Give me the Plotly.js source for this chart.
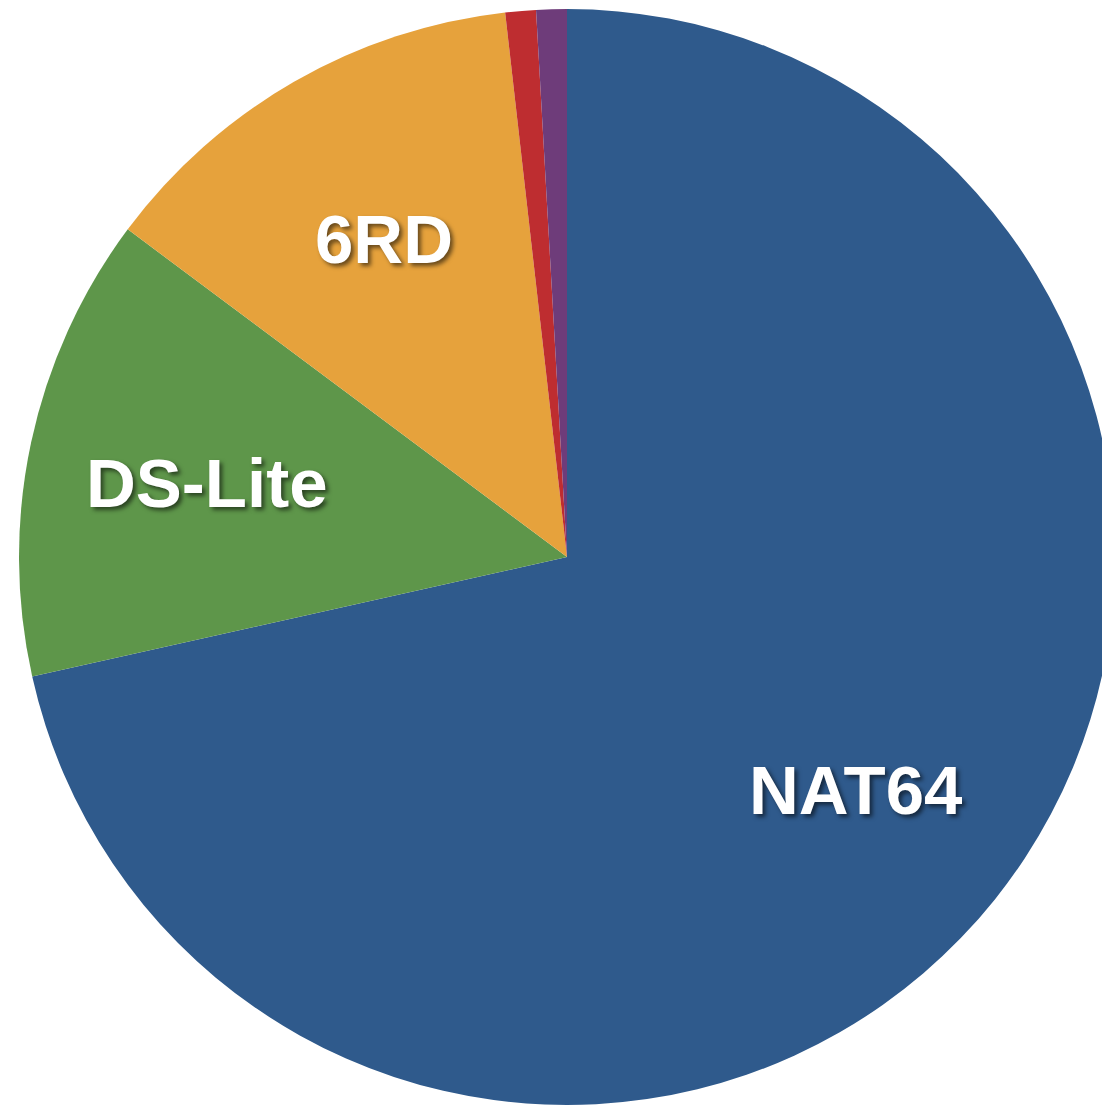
<!DOCTYPE html>
<html>
<head>
<meta charset="utf-8">
<script src="https://cdn.plot.ly/plotly-3.0.1.min.js"></script>
<style>
html,body{margin:0;padding:0;overflow:hidden;background:#fff;}
#chart{width:1134px;height:1106px;}
</style>
</head>
<body>
<div id="chart"></div>
<script>
const categories = ["NAT64", "DS-Lite", "6RD", "Other 1", "Other 2"];
const shares = [71.5, 13.7, 13.0, 0.9, 0.9];
const colors = ["#2F5A8C", "#5E964A", "#E6A23C", "#BE2D30", "#6E3C7A"];
const shownLabels = ["NAT64", "DS-Lite", "6RD"];

const W = 1134, H = 1106;
const labelPos = { "NAT64": [855, 790], "DS-Lite": [207, 483], "6RD": [384, 240] };

const trace = {
  type: "pie",
  labels: categories,
  values: shares,
  sort: false,
  direction: "clockwise",
  rotation: 0,
  textinfo: "none",
  hoverinfo: "label+percent",
  marker: { colors: colors, line: { width: 0 } },
  domain: { x: [0, 1], y: [1 - (557 + 548) / H, 1 - (557 - 548) / H] },
  showlegend: false
};

const annotations = shownLabels.map(name => ({
  text: name,
  xref: "paper", yref: "paper",
  x: labelPos[name][0] / W,
  y: 1 - labelPos[name][1] / H,
  xanchor: "center", yanchor: "middle",
  showarrow: false,
  font: {
    family: "Liberation Sans, Arial, Helvetica, sans-serif",
    size: 69, color: "#ffffff", weight: "bold",
    shadow: "3px 3px 4px rgba(0,0,0,0.55)"
  }
}));

Plotly.newPlot("chart", [trace], {
  width: W, height: H,
  margin: { l: 0, r: 0, t: 0, b: 0 },
  paper_bgcolor: "#ffffff",
  showlegend: false,
  annotations: annotations
}, { displayModeBar: false, staticPlot: true });
</script>
</body>
</html>
